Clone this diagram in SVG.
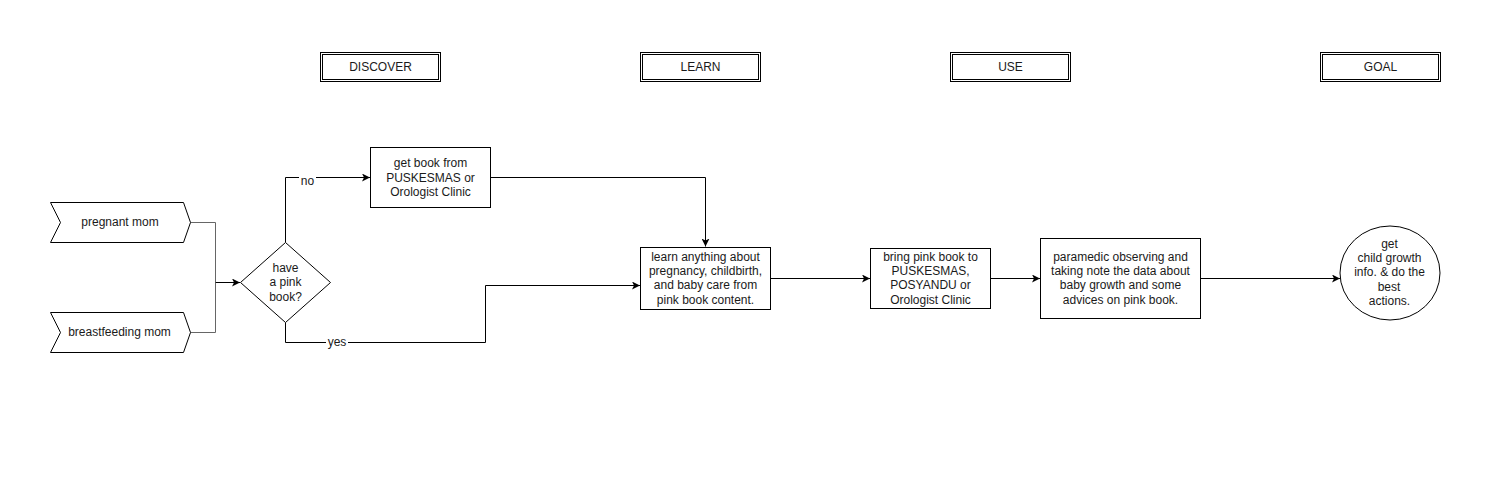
<svg xmlns="http://www.w3.org/2000/svg" width="1501" height="492" viewBox="0 0 1501 492">
<defs>
<marker id="arr" viewBox="0 0 10 10" refX="10" refY="5" markerWidth="8" markerHeight="8" markerUnits="userSpaceOnUse" orient="auto">
<path d="M0,0 L10,5 L0,10 L2.5,5 Z" fill="#000"/>
</marker>
</defs>
<style>
text{font-family:"Liberation Sans",Arial,sans-serif;font-size:12px;fill:#1a1a1a;text-anchor:middle;dominant-baseline:central}
.box{fill:#fff;stroke:#000;stroke-width:1}
.edge{fill:none;stroke:#000;stroke-width:1}
.feed{fill:none;stroke:#666;stroke-width:1}
.lbl{fill:#fff;stroke:none}
</style>
<rect width="1501" height="492" fill="#fff"/>

<g id="hdr-discover">
<rect class="box" x="320.5" y="52.5" width="120" height="29"/>
<rect class="box" x="322.5" y="54.5" width="116" height="25"/>
<text x="380.5" y="67">DISCOVER</text>
</g>
<g id="hdr-learn">
<rect class="box" x="640.5" y="52.5" width="120" height="29"/>
<rect class="box" x="642.5" y="54.5" width="116" height="25"/>
<text x="700.5" y="67">LEARN</text>
</g>
<g id="hdr-use">
<rect class="box" x="950.5" y="52.5" width="120" height="29"/>
<rect class="box" x="952.5" y="54.5" width="116" height="25"/>
<text x="1010.5" y="67">USE</text>
</g>
<g id="hdr-goal">
<rect class="box" x="1320.5" y="52.5" width="120" height="29"/>
<rect class="box" x="1322.5" y="54.5" width="116" height="25"/>
<text x="1380.5" y="67">GOAL</text>
</g>

<g id="connectors">
<path class="feed" d="M190.5,222.5 H215.5 V282.5"/>
<path class="feed" d="M190.5,332.5 H215.5 V282.5"/>
<path class="edge" d="M215.5,282.5 H240" marker-end="url(#arr)"/>
<path class="edge" d="M285.5,242.5 V177.5 H370" marker-end="url(#arr)"/>
<rect class="lbl" x="299" y="173" width="17" height="14"/>
<text x="307.5" y="181">no</text>
<path class="edge" d="M285.5,322.5 V342.5 H485.5 V285.5 H640" marker-end="url(#arr)"/>
<rect class="lbl" x="326" y="335" width="22" height="14"/>
<text x="337" y="342">yes</text>
<path class="edge" d="M490.5,177.5 H705.5 V246.5" marker-end="url(#arr)"/>
<path class="edge" d="M770.5,278.5 H870" marker-end="url(#arr)"/>
<path class="edge" d="M990.5,278.5 H1040" marker-end="url(#arr)"/>
<path class="edge" d="M1200.5,278.5 H1340" marker-end="url(#arr)"/>
</g>

<g id="pregnant">
<path class="box" d="M50.5,202.5 L183.5,202.5 L190.5,222.5 L183.5,242.5 L50.5,242.5 L60.5,222.5 Z"/>
<text x="120" y="222">pregnant mom</text>
</g>
<g id="breastfeeding">
<path class="box" d="M50.5,312.5 L183.5,312.5 L190.5,332.5 L183.5,352.5 L50.5,352.5 L60.5,332.5 Z"/>
<text x="119.5" y="332">breastfeeding mom</text>
</g>
<g id="decision">
<path class="box" d="M285.5,242.5 L330.5,282.5 L285.5,322.5 L240.5,282.5 Z"/>
<text x="285.5" y="267.5">have</text>
<text x="285.5" y="282">a pink</text>
<text x="285.5" y="296.5">book?</text>
</g>
<g id="getbook">
<rect class="box" x="370.5" y="147.5" width="120" height="60"/>
<text x="430.5" y="163">get book from</text>
<text x="430.5" y="177.5">PUSKESMAS or</text>
<text x="430.5" y="192">Orologist Clinic</text>
</g>
<g id="learn">
<rect class="box" x="640.5" y="247.5" width="130" height="62"/>
<text x="705.5" y="256.7">learn anything about</text>
<text x="705.5" y="271">pregnancy, childbirth,</text>
<text x="705.5" y="285.3">and baby care from</text>
<text x="705.5" y="299.6">pink book content.</text>
</g>
<g id="bring">
<rect class="box" x="870.5" y="248.5" width="120" height="60"/>
<text x="930.5" y="256.7">bring pink book to</text>
<text x="930.5" y="271">PUSKESMAS,</text>
<text x="930.5" y="285.3">POSYANDU or</text>
<text x="930.5" y="299.6">Orologist Clinic</text>
</g>
<g id="paramedic">
<rect class="box" x="1040.5" y="238.5" width="160" height="80"/>
<text x="1120.5" y="256.7">paramedic observing and</text>
<text x="1120.5" y="271">taking note the data about</text>
<text x="1120.5" y="285.3">baby growth and some</text>
<text x="1120.5" y="299.6">advices on pink book.</text>
</g>
<g id="goal">
<ellipse class="box" cx="1390" cy="273" rx="50" ry="47"/>
<text x="1389.5" y="243.5">get</text>
<text x="1389.5" y="258">child growth</text>
<text x="1389.5" y="272.4">info. &amp; do the</text>
<text x="1389" y="286.8">best</text>
<text x="1389.5" y="301.2">actions.</text>
</g>
</svg>
